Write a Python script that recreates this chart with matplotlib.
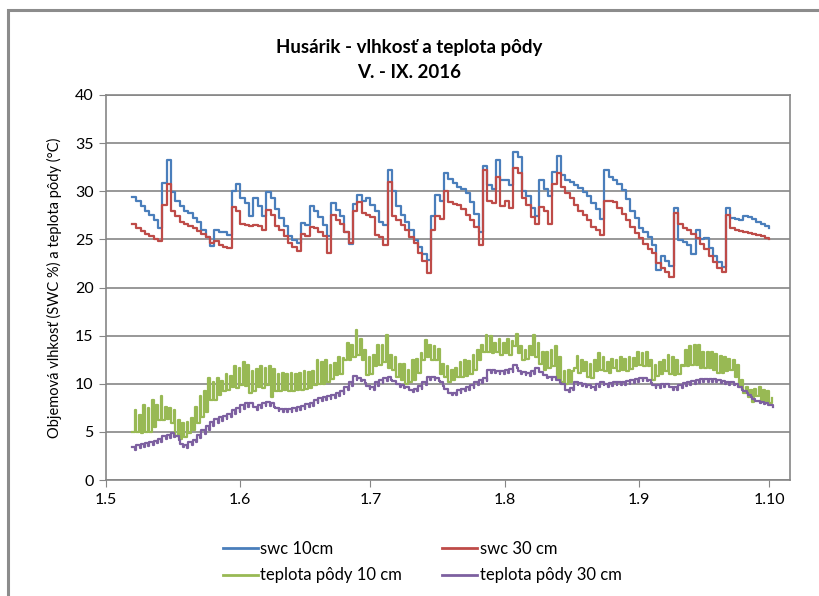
import numpy as np
import matplotlib
matplotlib.use("Agg")
import matplotlib.pyplot as plt
from matplotlib.patches import Rectangle
from matplotlib.lines import Line2D

plt.rcParams['font.family'] = ['Lato', 'DejaVu Sans']

# days counted from 1 May 2016 (day 0); first reading on day 6
FIRST_DAY = 6

swc10 = [29.4, 29.0, 28.5, 28.0, 27.5, 27.0, 26.2, 30.9, 33.2, 29.9,
         29.0, 28.5, 28.0, 27.7, 27.2, 26.8, 26.0, 25.2, 24.3, 26.0,
         25.8, 25.8, 25.5, 30.0, 30.8, 29.3, 28.8, 27.4, 29.3, 28.5,
         27.4, 29.9, 29.3, 28.2, 27.2, 26.4, 25.4, 24.9, 24.6, 26.7,
         26.5, 28.5, 28.0, 27.3, 26.5, 25.4, 28.8, 28.1, 27.4, 25.8,
         24.5, 28.7, 29.6, 29.0, 29.3, 28.6, 28.0, 26.8, 26.5, 32.2,
         30.0, 28.5, 27.5, 26.8, 26.0, 24.9, 24.2, 23.5, 22.9, 27.4,
         29.6, 29.0, 31.9, 31.3, 30.9, 30.4, 30.2, 29.8, 28.9, 27.6,
         25.8, 32.6, 30.6, 30.2, 33.2, 31.2, 31.2, 30.6, 34.1, 33.6,
         30.0, 29.5, 28.3, 27.4, 31.2, 30.2, 29.5, 32.0, 33.7, 31.7,
         31.2, 31.0, 30.6, 30.3, 29.9, 29.5, 28.8, 28.2, 27.1, 32.2,
         31.5, 31.2, 30.8, 30.1, 29.2, 28.0, 27.2, 26.2, 25.8, 25.2,
         24.4, 21.8, 23.3, 22.8, 22.2, 28.3, 24.9, 24.7, 24.4, 23.5,
         26.0, 25.0, 25.1, 24.1, 23.3, 22.6, 22.1, 28.3, 27.2, 27.1,
         27.0, 27.4, 27.3, 27.1, 26.8, 26.6, 26.4, 26.2]

swc30 = [26.6, 26.2, 25.9, 25.6, 25.3, 25.0, 24.8, 28.6, 30.8, 27.9,
         27.4, 26.8, 26.6, 26.4, 26.2, 25.9, 25.6, 25.2, 24.6, 24.8,
         24.4, 24.2, 24.1, 28.4, 27.9, 26.6, 26.5, 26.4, 26.5, 26.4,
         26.0, 28.1, 27.5, 26.4, 26.0, 25.3, 24.6, 24.2, 23.8, 25.6,
         25.4, 26.3, 26.2, 25.8, 25.3, 23.6, 27.5, 27.0, 26.6, 25.8,
         24.6, 27.9, 28.9, 27.7, 27.5, 27.3, 25.5, 25.2, 24.4, 31.0,
         27.4, 27.0, 26.5, 26.0, 25.2, 24.6, 23.6, 22.8, 21.5, 26.0,
         27.4, 27.1, 30.0, 28.9, 28.7, 28.6, 28.2, 27.5, 27.0, 26.3,
         24.4, 32.2, 29.0, 28.8, 31.5, 28.5, 29.0, 28.3, 32.4, 31.9,
         29.3, 28.6, 27.3, 26.6, 28.4, 27.9, 26.6, 30.8, 31.9, 30.4,
         29.8, 29.3, 28.6, 28.0, 27.5, 27.0, 26.3, 26.0, 25.5, 29.0,
         29.0, 28.9, 28.3, 27.6, 27.0, 26.3, 25.7, 25.1, 24.5, 24.0,
         23.6, 22.5, 22.0, 21.6, 21.1, 27.7, 26.6, 26.2, 26.0, 25.6,
         25.1, 24.5, 24.0, 23.3, 22.7, 22.0, 21.6, 27.5, 26.2, 26.0,
         25.9, 25.8, 25.7, 25.6, 25.5, 25.3, 25.1, 25.0]

t10_max = [7.3, 6.8, 7.8, 7.5, 8.3, 7.8, 8.7, 7.6, 7.5, 7.3,
           6.2, 5.9, 6.0, 6.4, 7.6, 8.7, 9.2, 10.6, 10.2, 10.6,
           10.3, 11.0, 10.8, 11.8, 11.6, 12.3, 12.0, 11.3, 11.5, 11.8,
           11.6, 11.8, 11.5, 11.0, 11.1, 11.0, 11.1, 11.0, 11.1, 11.3,
           11.2, 11.3, 12.5, 12.3, 12.5, 12.0, 12.2, 12.8, 12.7, 14.2,
           14.0, 15.6, 14.6, 13.5, 12.8, 13.0, 14.0, 14.0, 15.1, 13.0,
           12.8, 12.1, 12.1, 11.4, 12.5, 12.6, 13.2, 14.5, 14.0, 13.9,
           13.6, 12.1, 11.8, 11.4, 11.6, 12.3, 12.5, 12.4, 13.0, 13.5,
           14.0, 15.1, 15.0, 14.2, 14.6, 14.2, 14.6, 14.4, 15.2, 13.9,
           13.5, 13.9, 15.1, 14.2, 13.3, 13.3, 13.5, 13.9, 12.8, 11.3,
           11.4, 11.3, 12.9, 12.5, 12.3, 12.1, 12.5, 13.2, 12.8, 12.3,
           12.6, 12.5, 12.8, 12.6, 12.8, 12.7, 13.3, 13.2, 13.3, 12.5,
           11.9, 12.3, 12.5, 13.0, 12.8, 12.5, 12.0, 13.5, 13.9, 14.0,
           14.0, 13.3, 13.3, 13.3, 13.1, 12.9, 12.8, 12.6, 12.5, 11.9,
           10.4, 9.7, 9.4, 9.5, 9.7, 9.4, 9.2, 8.5]

t10_min = [5.0, 5.0, 4.9, 5.0, 5.0, 5.5, 6.2, 6.2, 6.3, 5.9,
           4.6, 4.3, 4.5, 4.9, 5.2, 5.9, 6.5, 7.1, 8.3, 8.3,
           8.8, 9.2, 9.3, 9.7, 9.6, 9.9, 9.8, 9.0, 9.2, 9.7,
           9.6, 9.9, 8.6, 9.2, 9.2, 9.3, 9.2, 9.2, 9.4, 9.4,
           9.5, 9.6, 9.9, 10.0, 10.0, 10.2, 10.5, 10.9, 11.0, 12.5,
           12.5, 12.8, 13.0, 12.5, 10.9, 11.0, 11.8, 12.0, 12.3, 11.6,
           11.4, 10.7, 10.4, 10.0, 10.2, 10.4, 11.1, 12.5, 12.8, 12.5,
           12.5, 11.0, 10.7, 10.2, 10.4, 10.7, 10.7, 10.8, 11.0, 11.4,
           12.5, 13.3, 13.3, 13.2, 13.3, 13.0, 13.2, 13.0, 13.9, 13.2,
           12.5, 12.6, 13.0, 12.8, 12.1, 11.4, 11.6, 11.8, 10.6, 10.2,
           10.0, 10.2, 11.6, 11.1, 11.3, 10.7, 10.6, 11.3, 11.4, 11.3,
           11.1, 11.6, 11.3, 11.4, 11.3, 11.5, 11.8, 11.9, 11.8, 11.8,
           10.4, 10.8, 11.0, 11.3, 11.0, 10.9, 11.0, 11.8, 11.8, 12.0,
           12.0, 11.6, 11.6, 11.6, 11.4, 11.1, 11.1, 11.3, 11.4, 10.7,
           9.7, 9.0, 8.6, 8.1, 8.7, 8.3, 8.1, 8.0]

t30_max = [3.45, 3.6, 3.7, 3.8, 3.9, 4.1, 4.3, 4.6, 4.7, 4.85,
           4.6, 3.7, 3.6, 3.9, 4.2, 4.7, 5.2, 5.6, 6.0, 6.3,
           6.5, 6.6, 6.9, 7.3, 7.5, 7.8, 8.0, 8.0, 7.6, 7.8,
           8.0, 8.1, 8.0, 7.5, 7.4, 7.4, 7.4, 7.5, 7.6, 7.7,
           7.9, 8.0, 8.3, 8.5, 8.6, 8.7, 8.8, 9.0, 9.2, 9.7,
           10.2, 10.8, 10.6, 10.4, 9.8, 9.7, 10.2, 10.4, 10.6, 10.7,
           10.3, 10.0, 9.9, 9.7, 9.4, 9.5, 9.8, 10.2, 10.7, 10.7,
           10.6, 10.2, 9.5, 9.0, 9.0, 9.3, 9.5, 9.7, 9.9, 10.2,
           10.4, 10.6, 11.4, 11.4, 11.3, 11.3, 11.4, 11.5, 11.9, 11.3,
           11.2, 11.1, 11.3, 11.6, 11.2, 10.9, 10.7, 10.7, 10.4, 10.0,
           9.4, 9.6, 10.2, 10.1, 10.0, 9.9, 9.7, 10.0, 10.2, 10.0,
           10.1, 10.2, 10.2, 10.2, 10.3, 10.4, 10.5, 10.6, 10.6, 10.4,
           9.9, 9.9, 10.0, 10.0, 9.7, 9.7, 9.9, 10.1, 10.2, 10.3,
           10.4, 10.5, 10.5, 10.5, 10.5, 10.4, 10.3, 10.2, 10.2, 10.0,
           9.7, 9.2, 8.8, 8.4, 8.2, 8.1, 8.0, 7.8]

t30_min = [3.1, 3.3, 3.4, 3.5, 3.6, 3.8, 4.0, 4.3, 4.4, 4.5,
           4.2, 3.4, 3.3, 3.6, 3.9, 4.4, 4.8, 5.2, 5.6, 5.9,
           6.1, 6.3, 6.5, 6.9, 7.1, 7.4, 7.6, 7.6, 7.3, 7.5,
           7.7, 7.7, 7.6, 7.2, 7.1, 7.1, 7.1, 7.2, 7.3, 7.4,
           7.6, 7.7, 8.0, 8.2, 8.3, 8.4, 8.5, 8.7, 8.9, 9.3,
           9.8, 10.4, 10.3, 10.1, 9.5, 9.4, 9.8, 10.1, 10.3, 10.4,
           10.0, 9.7, 9.6, 9.4, 9.1, 9.2, 9.5, 9.9, 10.4, 10.4,
           10.3, 9.8, 9.2, 8.8, 8.8, 9.0, 9.2, 9.4, 9.6, 9.9,
           10.1, 10.3, 11.1, 11.1, 11.0, 11.0, 11.1, 11.2, 11.6, 11.0,
           10.9, 10.8, 11.0, 11.3, 10.9, 10.6, 10.4, 10.4, 10.1, 9.7,
           9.1, 9.3, 9.9, 9.8, 9.7, 9.6, 9.4, 9.7, 9.9, 9.7,
           9.8, 9.9, 9.9, 9.9, 10.0, 10.1, 10.2, 10.3, 10.3, 10.1,
           9.6, 9.6, 9.7, 9.7, 9.4, 9.4, 9.6, 9.8, 9.9, 10.0,
           10.1, 10.2, 10.2, 10.2, 10.2, 10.1, 10.0, 9.9, 9.9, 9.7,
           9.4, 9.0, 8.6, 8.2, 8.0, 7.9, 7.8, 7.6]

month_starts = [0, 31, 61, 92, 123, 153]
month_labels = ['1.5', '1.6', '1.7', '1.8', '1.9', '1.10']

LEGENDS = ['swc 10cm', 'swc 30 cm', 'teplota pôdy 10 cm', 'teplota pôdy 30 cm']
COLORS = ['#4A7EBB', '#BE4B48', '#98B954', '#7D60A0']
LW = 1.6


def diurnal(first, a, b, split):
    # each day: value a from the start of the day, value b from `split` on
    xs, ys = [], []
    for i in range(len(a)):
        xs += [first + i, first + i + split]
        ys += [a[i], b[i]]
    return xs, ys


fig = plt.figure(figsize=(8.19, 5.96), dpi=100)
fig.patches.append(Rectangle((8 / 819, -0.1), 1.2, 1.1 - 10 / 596,
                             transform=fig.transFigure, fill=False,
                             edgecolor='#8c8c8c', linewidth=2.2))
ax = fig.add_axes([106 / 819, 1 - 480 / 596, 684 / 819, 385 / 596])

ax.plot(FIRST_DAY + np.arange(len(swc10)), swc10, drawstyle='steps-post',
        color=COLORS[0], lw=LW)
ax.plot(FIRST_DAY + np.arange(len(swc30)), swc30, drawstyle='steps-post',
        color=COLORS[1], lw=LW)
gx, gy = diurnal(FIRST_DAY, t10_min, t10_max, 0.6)
ax.plot(gx, gy, drawstyle='steps-post', color=COLORS[2], lw=LW)
px, py = diurnal(FIRST_DAY, t30_max, t30_min, 0.8)
ax.plot(px, py, drawstyle='steps-post', color=COLORS[3], lw=LW)

ax.set_xlim(0, 157.8)
ax.set_ylim(0, 40)
ax.set_yticks(range(0, 41, 5))
ax.set_xticks(month_starts)
ax.set_xticklabels(month_labels)
ax.yaxis.grid(True, color='#868686', linewidth=1.2)
ax.set_axisbelow(True)
for s in ax.spines.values():
    s.set_color('#868686')
    s.set_linewidth(1.2)
ax.tick_params(axis='both', direction='out', length=5, color='#868686',
               labelsize=11.5, pad=4)
ax.set_ylabel('Objemová vlhkosť (SWC %) a teplota pôdy (°C)', fontsize=10.5,
              labelpad=9)

fig.text(0.5, 1 - 47 / 596, 'Husárik - vlhkosť a teplota pôdy',
         ha='center', va='center', fontsize=13.5, fontweight='bold')
fig.text(0.5, 1 - 73 / 596, 'V. - IX. 2016', ha='center', va='center',
         fontsize=13.5, fontweight='bold')

handles = [Line2D([], [], color=COLORS[i], lw=2.0) for i in (0, 2, 1, 3)]
labels = [LEGENDS[i] for i in (0, 2, 1, 3)]
fig.legend(handles, labels, ncol=2, frameon=False, fontsize=12,
           loc='center left', bbox_to_anchor=(208 / 819, 1 - 562 / 596),
           handlelength=2.1, handletextpad=0.15, columnspacing=2.4,
           labelspacing=0.65)

fig.savefig('out.png', dpi=100)
